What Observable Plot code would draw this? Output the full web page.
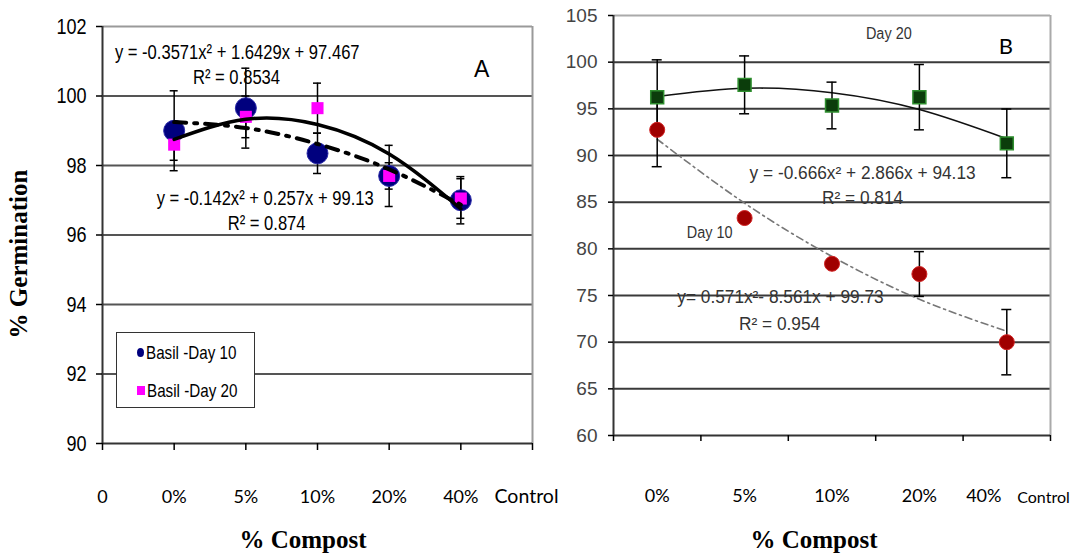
<!DOCTYPE html>
<html>
<head>
<meta charset="utf-8">
<script src="https://cdn.jsdelivr.net/npm/d3@7"></script>
<script src="https://cdn.jsdelivr.net/npm/@observablehq/plot@0.6"></script>
<style>
  html, body { margin: 0; padding: 0; background: #fff; }
  #wrap { position: relative; width: 1079px; height: 556px; overflow: hidden; background: #fff; }
  #wrap svg { position: absolute; top: 0; overflow: visible; }
  .ttl { position: absolute; font-family: "Liberation Serif", "Times New Roman", serif; font-weight: bold; white-space: nowrap; color: #000; }
  #legend { position: absolute; left: 116px; top: 332px; width: 139px; height: 76px; border: 1px solid #333; background: #fff; box-sizing: border-box;
            font-family: "Liberation Sans", Arial, sans-serif; font-size: 19px; color: #000; }
  #legend .item { position: absolute; left: 20px; white-space: nowrap; line-height: 1; }
  #legend .sw { display: inline-block; vertical-align: middle; margin-right: 2px; }
  #legend .lt { display: inline-block; transform: scaleX(0.8); transform-origin: left center; vertical-align: middle; }
</style>
</head>
<body>
<div id="wrap"></div>
<script>
// ---------- data ----------
const cats = ["0%", "5%", "10%", "20%", "40%"];
const xLabelsA = ["0", "0%", "5%", "10%", "20%", "40%", "Control"];
const yTicksA = [90, 92, 94, 96, 98, 100, 102];
const yTicksB = [60, 65, 70, 75, 80, 85, 90, 95, 100, 105];

// Panel A (Basil)
const basilDay10 = [99.0, 99.65, 98.35, 97.7, 97.0];
const basilDay10Err = [1.15, 1.15, 0.58, 0.88, 0.68];
const basilDay20 = [98.6, 99.4, 99.65, 97.7, 97.05];
const basilDay20Err = [0.45, 0.6, 0.72, 0.38, 0.57];
// fitted trend values read at each category (solid: R2 0.8534, dash-dot: R2 0.874)
const trendSolidA = [98.75, 99.33, 99.18, 98.33, 96.75];
const trendDashA = [99.25, 99.08, 98.62, 97.89, 96.87];

// Panel B
const day20B = [96.25, 97.57, 95.36, 96.25, 91.3];
const day20BErr = [4.0, 3.1, 2.5, 3.5, 3.68];
const day10B = [92.75, 83.3, 78.4, 77.3, 70.0];
const day10BErr = [3.95, 0, 0, 2.4, 3.5];
const trendDay20B = [96.33, 97.2, 96.73, 94.93, 91.8];
const trendDay10B = [91.74, 84.89, 79.18, 74.6, 71.17];

// annotation texts
const eqA1 = "y = -0.3571x² + 1.6429x + 97.467";
const r2A1 = "R² = 0.8534";
const eqA2 = "y = -0.142x² + 0.257x + 99.13";
const r2A2 = "R² = 0.874";
const eqB20 = "y = -0.666x² + 2.866x + 94.13";
const r2B20 = "R² = 0.814";
const eqB10 = "y= 0.571x²- 8.561x + 99.73";
const r2B10 = "R² = 0.954";

// ---------- build ----------
const SANS = '"Liberation Sans", Arial, sans-serif';
const CAL = 'Lato, "Open Sans", sans-serif';

const rowsA = cats.map((c, i) => ({
  cat: c, pos: i + 1,
  d10: basilDay10[i], e10: basilDay10Err[i],
  d20: basilDay20[i], e20: basilDay20Err[i],
  tS: trendSolidA[i], tD: trendDashA[i]
}));
const rowsB = cats.map((c, i) => ({
  cat: c, pos: i + 0.5,
  d20: day20B[i], e20: day20BErr[i],
  d10: day10B[i], e10: day10BErr[i],
  t20: trendDay20B[i], t10: trendDay10B[i]
}));
const rowsB10err = rowsB.filter(d => d.e10 > 0);

function errBars(rows, key, ekey, cap, sw) {
  return [
    Plot.ruleX(rows, {x: "pos", y1: d => d[key] - d[ekey], y2: d => d[key] + d[ekey], stroke: "#000", strokeWidth: sw}),
    Plot.ruleY(rows, {y: d => d[key] + d[ekey], x1: "pos", x2: "pos", insetLeft: -cap, insetRight: -cap, stroke: "#000", strokeWidth: sw}),
    Plot.ruleY(rows, {y: d => d[key] - d[ekey], x1: "pos", x2: "pos", insetLeft: -cap, insetRight: -cap, stroke: "#000", strokeWidth: sw})
  ];
}

const annA = [
  {x: 1.88, y: 101.25, t: eqA1},
  {x: 1.87, y: 100.53, t: r2A1},
  {x: 2.27, y: 97.05, t: eqA2},
  {x: 2.29, y: 96.33, t: r2A2}
];

const plotA = Plot.plot({
  width: 560, height: 556,
  marginLeft: 102, marginRight: 28, marginTop: 26, marginBottom: 113,
  style: {background: "transparent", color: "#000", overflow: "visible"},
  x: {domain: [0, 6]},
  y: {domain: [90, 102]},
  marks: [
    Plot.ruleY(yTicksA.slice(1, -1), {stroke: "#555", strokeWidth: 2}),
    Plot.ruleY([yTicksA[yTicksA.length - 1]], {stroke: "#9a9a9a", strokeWidth: 2}),
    Plot.ruleX([6], {stroke: "#9a9a9a", strokeWidth: 2}),
    Plot.ruleX([0], {stroke: "#333", strokeWidth: 2}),
    Plot.ruleY([90], {stroke: "#333", strokeWidth: 2}),
    Plot.axisY({ticks: yTicksA, tickSize: 6, tickPadding: 10, fontSize: 22, fontFamily: SANS, label: null, strokeWidth: 1.5}),
    Plot.axisX({ticks: [0, 1, 2, 3, 4, 5, 6], tickFormat: () => "", tickSize: 7, label: null, strokeWidth: 1.5}),
    Plot.axisX({ticks: [0, 1, 2, 3, 4, 5], tickFormat: i => xLabelsA[i], tickSize: 0, tickPadding: 47, fontSize: 18, fontFamily: CAL, label: null}),
    Plot.axisX({ticks: [6], tickFormat: i => xLabelsA[i], tickSize: 0, tickPadding: 46, fontSize: 19.5, fontFamily: CAL, dx: -6, label: null}),
    ...errBars(rowsA, "d10", "e10", 4, 1.5),
    ...errBars(rowsA, "d20", "e20", 4, 1.5),
    Plot.dot(rowsA, {x: "pos", y: "d10", r: 10.5, fill: "#00007e", stroke: "#2a2aa8", strokeWidth: 1}),
    Plot.dot(rowsA, {x: "pos", y: "d20", symbol: "square", r: 6.8, fill: "#ff00ff", stroke: "none"}),
    Plot.line(rowsA, {x: "pos", y: "tD", curve: "natural", stroke: "#000", strokeWidth: 4, strokeDasharray: "12,8,3,8"}),
    Plot.line(rowsA, {x: "pos", y: "tS", curve: "natural", stroke: "#000", strokeWidth: 3.5}),
    Plot.text(annA, {x: "x", y: "y", text: "t", fontSize: 21, fontFamily: SANS, fill: "#000", className: "narrow"}),
    Plot.text(["A"], {x: 5.29, y: 100.76, fontSize: 23, fontFamily: SANS, fill: "#000"})
  ]
});
plotA.style.left = "0px";

const annBn = [
  {x: 3.15, y: 103.07, t: "Day 20"},
  {x: 1.10, y: 81.75, t: "Day 10"}
];
const annB = [
  {x: 2.85, y: 88.07, t: eqB20},
  {x: 2.85, y: 85.39, t: r2B20},
  {x: 1.91, y: 74.79, t: eqB10},
  {x: 1.90, y: 71.9, t: r2B10}
];

const plotB = Plot.plot({
  width: 519, height: 556,
  marginLeft: 53, marginRight: 29, marginTop: 15, marginBottom: 121,
  style: {background: "transparent", color: "#000", overflow: "visible"},
  x: {domain: [0, 5]},
  y: {domain: [60, 105]},
  marks: [
    Plot.ruleY(yTicksB.slice(1, -1), {stroke: "#3a3a3a", strokeWidth: 2}),
    Plot.ruleY([105], {stroke: "#aaa", strokeWidth: 2}),
    Plot.ruleX([5], {stroke: "#aaa", strokeWidth: 2}),
    Plot.ruleX([0], {stroke: "#333", strokeWidth: 2}),
    Plot.ruleY([60], {stroke: "#333", strokeWidth: 2}),
    Plot.axisY({ticks: yTicksB, tickSize: 5, tickPadding: 11, fontSize: 19, fontFamily: SANS, fill: "#444", label: null, strokeWidth: 1.5}),
    Plot.axisX({ticks: [0, 1, 2, 3, 4, 5], tickFormat: () => "", tickSize: 6, label: null, strokeWidth: 1.5}),
    Plot.axisX({ticks: rowsB.slice(0, 4).map(d => d.pos), tickFormat: (p, i) => cats[i], tickSize: 0, tickPadding: 54, fontSize: 18, fontFamily: CAL, label: null}),
    Plot.axisX({ticks: [rowsB[4].pos], tickFormat: () => cats[4], tickSize: 0, tickPadding: 54, fontSize: 18, fontFamily: CAL, dx: -23, label: null}),
    Plot.axisX({ticks: [5], tickFormat: () => "Control", tickSize: 0, tickPadding: 56, fontSize: 16, fontFamily: CAL, dx: -7, label: null}),
    Plot.line(rowsB, {x: "pos", y: "t20", curve: "natural", stroke: "#111", strokeWidth: 1.6}),
    Plot.line(rowsB, {x: "pos", y: "t10", curve: "natural", stroke: "#777", strokeWidth: 1.6, strokeDasharray: "7,4,2,4"}),
    ...errBars(rowsB, "d20", "e20", 5, 1.5),
    ...errBars(rowsB10err, "d10", "e10", 5, 1.5),
    Plot.dot(rowsB, {x: "pos", y: "d20", symbol: "square", r: 7.3, fill: "#0b3d0b", stroke: "#2f8f2f", strokeWidth: 1.5}),
    Plot.dot(rowsB, {x: "pos", y: "d10", r: 7.5, fill: "#a00000", stroke: "#d02020", strokeWidth: 1}),
    Plot.text(annB, {x: "x", y: "y", text: "t", fontSize: 18, fontFamily: SANS, fill: "#333", className: "narrow95"}),
    Plot.text(annBn, {x: "x", y: "y", text: "t", fontSize: 17, fontFamily: SANS, fill: "#333", className: "narrow"}),
    Plot.text(["B"], {x: 4.49, y: 101.68, fontSize: 22, fontFamily: CAL, fill: "#000"})
  ]
});
plotB.style.left = "560px";

const wrap = document.getElementById("wrap");
wrap.appendChild(plotA);
wrap.appendChild(plotB);

// condense text horizontally (stand-in for Arial Narrow)
function squeeze(svg, selector, k) {
  svg.querySelectorAll(selector).forEach(t => {
    const tr = t.getAttribute("transform") || "";
    t.setAttribute("transform", tr + " scale(" + k + ",1)");
  });
}
squeeze(plotA, "g.narrow text", 0.79);
squeeze(plotA, 'g[aria-label="y-axis tick label"] text', 0.82);
squeeze(plotB, "g.narrow text", 0.85);
squeeze(plotB, "g.narrow95 text", 0.96);

// legend (panel A)
const leg = document.createElement("div");
leg.id = "legend";
leg.innerHTML =
  '<div class="item" style="top:9px"><span class="sw" style="width:7px;height:9px;border-radius:50%;background:#00007e"></span><span class="lt">Basil -Day 10</span></div>' +
  '<div class="item" style="top:47px"><span class="sw" style="width:8px;height:9px;background:#ff00ff"></span><span class="lt">Basil -Day 20</span></div>';
wrap.appendChild(leg);

// axis titles
function title(text, x, y, size, rot) {
  const d = document.createElement("div");
  d.className = "ttl";
  d.textContent = text;
  d.style.fontSize = size + "px";
  d.style.left = x + "px";
  d.style.top = y + "px";
  d.style.transform = "translate(-50%,-50%)" + (rot ? " rotate(-90deg)" : "");
  wrap.appendChild(d);
}
title("% Germination", 19, 254, 25, true);
title("% Compost", 303, 540, 25, false);
title("% Compost", 814, 540, 25, false);
</script>
</body>
</html>
